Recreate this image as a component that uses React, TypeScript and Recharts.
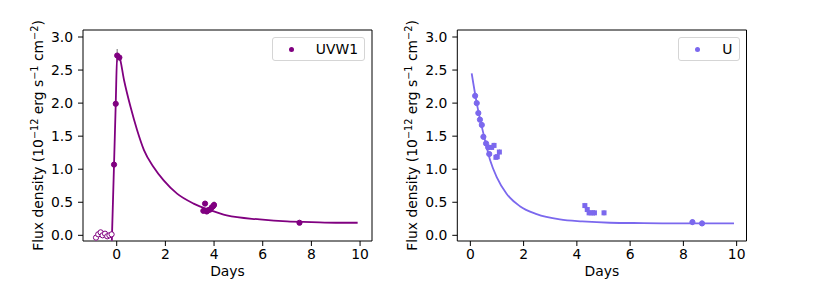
import React from 'react';
import { ScatterChart, Scatter, XAxis, YAxis, ErrorBar, Legend, Label, ReferenceLine } from 'recharts';

const PURPLE = '#800080';
const SLATE = '#7b68ee';
const FONT = 'DejaVu Sans, Verdana, sans-serif';
const FS = 13.9;

// ticks shared by both panels
const xTicks = [0, 2, 4, 6, 8, 10];
const yTicks = [0, 0.5, 1, 1.5, 2, 2.5, 3];
const yDomain: [number, number] = [-0.086, 3.106];

// UVW1 - left panel
const uvw1LimitDays = [-0.85, -0.76, -0.66, -0.58, -0.48, -0.39, -0.3, -0.21];
const uvw1LimitFlux = [-0.035, 0.015, 0.045, 0.0, 0.025, -0.015, 0.0, 0.015];
const uvw1Days = [-0.11, -0.04, 0.02, 0.11, 3.56, 3.63, 3.7, 3.76, 3.84, 3.9, 3.96, 4.0, 7.51];
const uvw1Flux = [1.07, 1.99, 2.72, 2.69, 0.37, 0.48, 0.36, 0.38, 0.39, 0.42, 0.44, 0.46, 0.19];
const uvw1Err = [0.02, 0.03, 0.1, 0.05, 0.03, 0.03, 0.03, 0.03, 0.03, 0.03, 0.03, 0.05, 0.01];
const uvw1ModelDays = [-0.2, -0.11, -0.04, 0.02, 0.11, 0.3, 0.57, 0.84, 1.12, 1.52, 1.93, 2.48, 3.16, 3.84, 4.52, 5.88, 7.0, 8.0, 9.0, 9.9];
const uvw1ModelFlux = [-0.08, 1.07, 1.99, 2.73, 2.7, 2.35, 1.94, 1.59, 1.29, 1.03, 0.83, 0.63, 0.48, 0.38, 0.3, 0.24, 0.21, 0.2, 0.19, 0.19];

// U - right panel
const uCircleDays = [0.18, 0.24, 0.3, 0.36, 0.43, 0.49, 0.59, 0.67, 0.71, 8.34, 8.7];
const uCircleFlux = [2.11, 2.0, 1.85, 1.75, 1.67, 1.49, 1.39, 1.33, 1.23, 0.2, 0.18];
const uSquareDays = [0.8, 0.89, 0.96, 1.01, 1.09, 4.3, 4.39, 4.46, 4.57, 4.66, 5.02];
const uSquareFlux = [1.33, 1.36, 1.18, 1.19, 1.26, 0.45, 0.39, 0.34, 0.34, 0.34, 0.34];
const uModelDays = [0.05, 0.24, 0.49, 0.74, 0.99, 1.36, 1.86, 2.49, 3.36, 4.2, 5.24, 6.5, 8.0, 9.9];
const uModelFlux = [2.45, 2.0, 1.54, 1.14, 0.88, 0.63, 0.44, 0.32, 0.24, 0.21, 0.19, 0.185, 0.18, 0.18];

const zip = (t: number[], f: number[], e?: number[]) =>
  t.map((x, i) => ({ t: x, f: f[i], e: e ? e[i] : 0.04 }));

const dot = (fill: string, stroke: string) => (p: any) => (
  <circle cx={p.cx} cy={p.cy} r={2.6} fill={fill} stroke={stroke} strokeWidth={1} />
);
const square = (color: string) => (p: any) => (
  <rect x={p.cx - 2.5} y={p.cy - 2.5} width={5} height={5} fill={color} />
);
const noShape = () => <g />;

const FluxLabel = ({ viewBox }: any) => {
  const x = viewBox.x + viewBox.width - 40;
  const y = viewBox.y + viewBox.height / 2;
  return (
    <text x={x} y={y} transform={`rotate(-90 ${x} ${y})`} textAnchor="middle" fontFamily={FONT} fontSize={FS} fill="#000">
      Flux density (10<tspan dy={-5} fontSize={9.7}>−12</tspan>
      <tspan dy={5}> erg s</tspan>
      <tspan dy={-5} fontSize={9.7}>−1</tspan>
      <tspan dy={5}> cm</tspan>
      <tspan dy={-5} fontSize={9.7}>−2</tspan>
      <tspan dy={5}>)</tspan>
    </text>
  );
};

const DaysLabel = ({ viewBox }: any) => (
  <text x={viewBox.x + viewBox.width / 2} y={viewBox.y + 35} textAnchor="middle" fontFamily={FONT} fontSize={FS} fill="#000">
    Days
  </text>
);

const legendContent = (props: any) => {
  const item = (props.payload || [])[0];
  if (!item) return null;
  return (
    <div style={{ border: '1px solid #d5d5d5', borderRadius: 3, background: '#fff', padding: '4px 6px 4px 5px', display: 'flex', alignItems: 'center', fontFamily: FONT, fontSize: FS, lineHeight: '14px', color: '#000' }}>
      <span style={{ width: 27, display: 'flex', justifyContent: 'center' }}>
        <span style={{ width: 5, height: 5, borderRadius: '50%', background: item.color }} />
      </span>
      <span style={{ marginLeft: 11 }}>{item.value}</span>
    </div>
  );
};

const tickStyle = { fontFamily: FONT, fontSize: FS, fill: '#000' };

interface PanelProps {
  width: number;
  marginLeft: number;
  marginRight: number;
  xDomain: [number, number];
  children: React.ReactNode;
}

const Panel = ({ width, marginLeft, marginRight, xDomain, children }: PanelProps) => (
  <ScatterChart width={width} height={302} margin={{ top: 30, right: marginRight, bottom: 26, left: marginLeft }}>
    <XAxis type="number" dataKey="t" domain={xDomain} ticks={xTicks} allowDataOverflow height={35}
      stroke="#000" tickSize={5} tickMargin={3} tick={tickStyle} interval={0}>
      <Label content={DaysLabel} />
    </XAxis>
    <YAxis type="number" dataKey="f" domain={yDomain} ticks={yTicks} allowDataOverflow width={50}
      stroke="#000" tickSize={5} tickMargin={5} tick={tickStyle} interval={0}
      tickFormatter={(v: number) => v.toFixed(1)}>
      <Label content={FluxLabel} />
    </YAxis>
    {/* top and right spines */}
    <ReferenceLine y={yDomain[1]} stroke="#000" strokeWidth={1} ifOverflow="visible" />
    <ReferenceLine x={xDomain[1]} stroke="#000" strokeWidth={1} ifOverflow="visible" />
    {children}
  </ScatterChart>
);

export default function App() {
  return (
    <div style={{ position: 'absolute', left: 0, top: 0, width: 830, height: 302, display: 'flex', background: '#fff' }}>
      <Panel width={400} marginLeft={33} marginRight={28} xDomain={[-1.385, 10.49]}>
        <Scatter data={zip(uvw1ModelDays, uvw1ModelFlux)} fill={PURPLE} line={{ stroke: PURPLE, strokeWidth: 1.8 }}
          lineJointType="monotoneX" shape={noShape} legendType="none" isAnimationActive={false} />
        <Scatter data={zip(uvw1LimitDays, uvw1LimitFlux)} fill={PURPLE} shape={dot('#fff', PURPLE)}
          legendType="none" isAnimationActive={false} />
        <Scatter name="UVW1" data={zip(uvw1Days, uvw1Flux, uvw1Err)} fill={PURPLE} shape={dot(PURPLE, PURPLE)}
          isAnimationActive={false}>
          <ErrorBar dataKey="e" direction="y" width={0} stroke="#888" strokeWidth={1.2} isAnimationActive={false} />
        </Scatter>
        <Legend layout="vertical" align="center" verticalAlign="middle" content={legendContent}
          wrapperStyle={{ top: 37, right: 35, left: 'auto', bottom: 'auto', width: 'auto' }} />
      </Panel>
      <Panel width={430} marginLeft={7.3} marginRight={83.5} xDomain={[-0.49, 10.37]}>
        <Scatter data={zip(uModelDays, uModelFlux)} fill={SLATE} line={{ stroke: SLATE, strokeWidth: 1.8 }}
          lineJointType="monotoneX" shape={noShape} legendType="none" isAnimationActive={false} />
        <Scatter data={zip(uSquareDays, uSquareFlux)} fill={SLATE} shape={square(SLATE)}
          legendType="none" isAnimationActive={false}>
          <ErrorBar dataKey="e" direction="y" width={0} stroke="#999" strokeWidth={1} isAnimationActive={false} />
        </Scatter>
        <Scatter name="U" data={zip(uCircleDays, uCircleFlux)} fill={SLATE} shape={dot(SLATE, SLATE)}
          isAnimationActive={false}>
          <ErrorBar dataKey="e" direction="y" width={0} stroke="#999" strokeWidth={1} isAnimationActive={false} />
        </Scatter>
        <Legend layout="vertical" align="center" verticalAlign="middle" content={legendContent}
          wrapperStyle={{ top: 37, right: 90.5, left: 'auto', bottom: 'auto', width: 'auto' }} />
      </Panel>
    </div>
  );
}
